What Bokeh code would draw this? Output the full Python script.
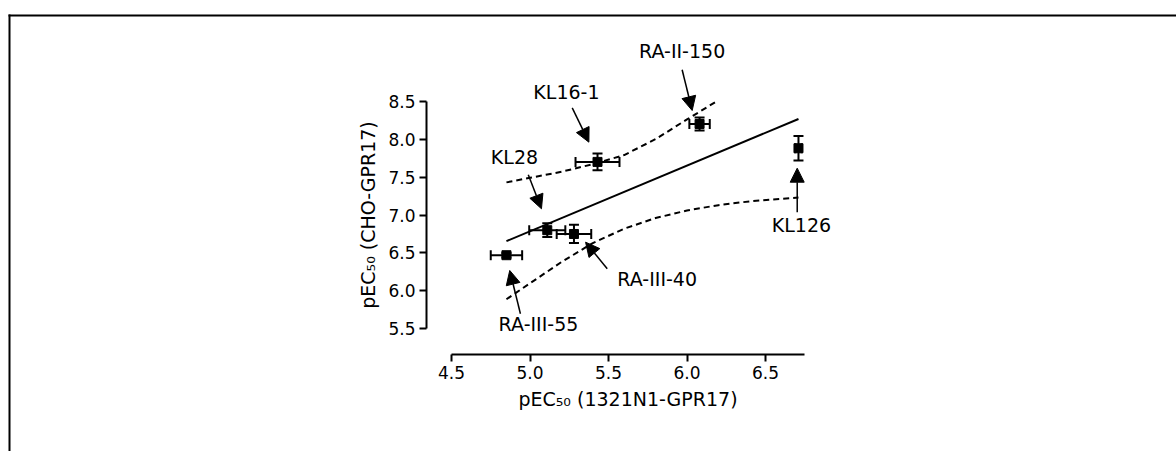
from bokeh.plotting import figure
from bokeh.models import (LinearAxis, FixedTicker, NumeralTickFormatter, ColumnDataSource,
                          Whisker, TeeHead, Arrow, NormalHead, BoxAnnotation, Range1d)
from bokeh.core.properties import value
from bokeh.embed import file_html
from bokeh.resources import INLINE

# ---- data ----
compounds = ["RA-III-55", "KL28", "RA-III-40", "KL16-1", "RA-II-150", "KL126"]
pec50_1321 = [4.85, 5.11, 5.28, 5.43, 6.08, 6.71]
pec50_1321_err = [0.10, 0.115, 0.11, 0.14, 0.065, 0.02]
pec50_cho = [6.47, 6.80, 6.75, 7.70, 8.20, 7.88]
pec50_cho_err = [0.03, 0.09, 0.12, 0.11, 0.085, 0.16]

fit_x = [4.85, 6.71]
fit_y = [6.655, 8.265]

band_upper_x = [4.85, 5.00, 5.20, 5.40, 5.60, 5.80, 6.00, 6.19]
band_upper_y = [7.43, 7.49, 7.57, 7.67, 7.79, 8.00, 8.26, 8.50]
band_lower_x = [4.85, 5.00, 5.20, 5.40, 5.60, 5.80, 6.00, 6.20, 6.40, 6.71]
band_lower_y = [5.89, 6.10, 6.38, 6.63, 6.82, 6.96, 7.06, 7.13, 7.18, 7.23]

x_ticks = [4.5, 5.0, 5.5, 6.0, 6.5]
y_ticks = [5.5, 6.0, 6.5, 7.0, 7.5, 8.0, 8.5]
x_title = "pEC\u2085\u2080 (1321N1-GPR17)"
y_title = "pEC\u2085\u2080 (CHO-GPR17)"

# annotation label and arrow positions (data units)
label_text = ["RA-II-150", "KL16-1", "KL28", "RA-III-55", "RA-III-40", "KL126"]
label_x = [5.969, 5.232, 4.901, 5.054, 5.810, 6.729]
label_y = [9.168, 8.615, 7.758, 5.557, 6.163, 6.862]
arrow_x0 = [5.969, 5.269, 4.989, 4.939, 5.492, 6.702]
arrow_y0 = [8.914, 8.413, 7.530, 5.698, 6.291, 7.037]
arrow_x1 = [6.033, 5.375, 5.073, 4.871, 5.354, 6.702]
arrow_y1 = [8.377, 7.960, 7.082, 6.269, 6.642, 7.617]

FONT = "DejaVu Sans"
W, H = 1176, 451

p = figure(width=W, height=H, output_backend="svg", toolbar_location=None,
           x_axis_type=None, y_axis_type=None, title=None,
           x_range=Range1d(1.6274, 9.1178), y_range=Range1d(3.8829, 9.8273),
           min_border=0, min_border_left=0, min_border_right=0,
           min_border_top=0, min_border_bottom=0)
p.grid.visible = False
p.outline_line_color = None
p.background_fill_color = "white"
p.border_fill_color = "white"

# axes (Prism style: offset, bounded)
xaxis = LinearAxis(fixed_location=5.1613, bounds=(4.5, 6.75),
                   ticker=FixedTicker(ticks=x_ticks),
                   formatter=NumeralTickFormatter(format="0.0"),
                   axis_label=x_title)
yaxis = LinearAxis(fixed_location=4.3408, bounds=(5.5, 8.5),
                   ticker=FixedTicker(ticks=y_ticks),
                   formatter=NumeralTickFormatter(format="0.0"),
                   axis_label=y_title)
for ax in (xaxis, yaxis):
    ax.axis_line_width = 2
    ax.axis_line_color = "black"
    ax.major_tick_line_width = 2
    ax.major_tick_line_color = "black"
    ax.major_tick_in = 0
    ax.major_tick_out = 7
    ax.minor_tick_line_color = None
    ax.major_label_text_font = FONT
    ax.major_label_text_font_size = "17px"
    ax.major_label_text_color = "black"
    ax.major_label_standoff = 4
    ax.axis_label_text_font = FONT
    ax.axis_label_text_font_size = "19px"
    ax.axis_label_text_font_style = "normal"
    ax.axis_label_text_color = "black"
    ax.axis_label_standoff = 6
yaxis.major_label_orientation = "horizontal"
p.add_layout(xaxis, "below")
p.add_layout(yaxis, "left")

# outer panel border: top and left edges only (screen y counted from the bottom)
p.add_layout(BoxAnnotation(left=8, right=None, top=H - 14, bottom=H - 16,
                           left_units="screen", top_units="screen", bottom_units="screen",
                           fill_color="black", fill_alpha=1, line_color=None))
p.add_layout(BoxAnnotation(left=8, right=10, top=H - 14, bottom=None,
                           left_units="screen", right_units="screen", top_units="screen",
                           fill_color="black", fill_alpha=1, line_color=None))

# regression line and confidence band
p.line(fit_x, fit_y, line_color="black", line_width=2)
p.line(band_upper_x, band_upper_y, line_color="black", line_width=2, line_dash="6 4")
p.line(band_lower_x, band_lower_y, line_color="black", line_width=2, line_dash="6 4")

# data with error bars
src = ColumnDataSource(dict(
    x=pec50_1321, y=pec50_cho,
    xlo=[a - e for a, e in zip(pec50_1321, pec50_1321_err)],
    xhi=[a + e for a, e in zip(pec50_1321, pec50_1321_err)],
    ylo=[a - e for a, e in zip(pec50_cho, pec50_cho_err)],
    yhi=[a + e for a, e in zip(pec50_cho, pec50_cho_err)],
))
p.add_layout(Whisker(source=src, base="y", lower="xlo", upper="xhi", dimension="width",
                     line_width=2, line_color="black",
                     upper_head=TeeHead(size=10, line_width=2, line_color="black"),
                     lower_head=TeeHead(size=10, line_width=2, line_color="black")))
p.add_layout(Whisker(source=src, base="x", lower="ylo", upper="yhi", dimension="height",
                     line_width=2, line_color="black",
                     upper_head=TeeHead(size=10, line_width=2, line_color="black"),
                     lower_head=TeeHead(size=10, line_width=2, line_color="black")))
p.scatter("x", "y", source=src, marker="square", size=9, fill_color="black", line_color="black")

# labels with arrows
asrc = ColumnDataSource(dict(x0=arrow_x0, y0=arrow_y0, x1=arrow_x1, y1=arrow_y1))
p.add_layout(Arrow(source=asrc, x_start="x0", y_start="y0", x_end="x1", y_end="y1",
                   line_width=1.5, line_color="black",
                   end=NormalHead(size=14, fill_color="black", line_color="black", line_width=1)))
p.text(x=label_x, y=label_y, text=label_text, text_font=value(FONT), text_font_size="19px",
       text_align="center", text_baseline="middle", text_color="black")

open("out.html", "w").write(file_html(p, INLINE))
